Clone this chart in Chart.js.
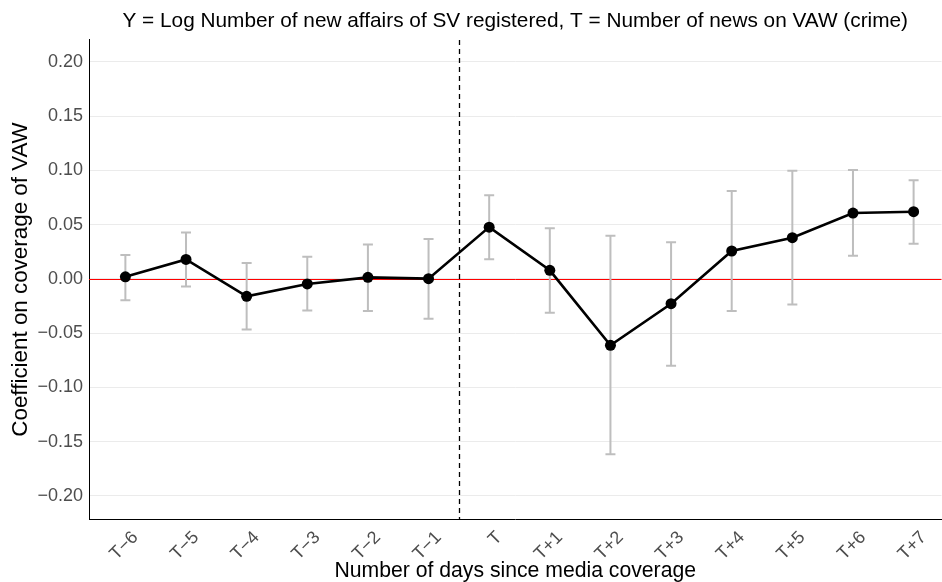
<!DOCTYPE html>
<html>
<head>
<meta charset="utf-8">
<script src="https://cdn.jsdelivr.net/npm/chart.js@4"></script>
<style>
  html, body { margin: 0; padding: 0; background: #fff; overflow: hidden; }
  #wrap { width: 947px; height: 582px; }
</style>
</head>
<body>
<div id="wrap"><canvas id="eventChart" width="947" height="582"></canvas></div>
<script>
const dayLabels = ["T\u22126", "T\u22125", "T\u22124", "T\u22123", "T\u22122", "T\u22121", "T",
                   "T+1", "T+2", "T+3", "T+4", "T+5", "T+6", "T+7"]
const coef   = [0.002, 0.018, -0.016, -0.0046, 0.0015, 0.0003, 0.0478, 0.008, -0.0611, -0.0228, 0.0258, 0.0381, 0.0608, 0.062]
const ciLow  = [-0.0196, -0.0069, -0.0465, -0.029, -0.0296, -0.0366, 0.0182, -0.0311, -0.1616, -0.0799, -0.0295, -0.0236, 0.0215, 0.0325]
const ciHigh = [0.022, 0.0428, 0.0147, 0.0206, 0.0318, 0.0368, 0.0772, 0.0467, 0.0399, 0.0338, 0.0811, 0.0998, 0.1005, 0.091]
const yTicks = [-0.2, -0.15, -0.1, -0.05, 0, 0.05, 0.1, 0.15, 0.2]
const eventAt = 5.5   // between T-1 and T

const fontFamily = "'Liberation Sans', Arial, sans-serif"

// zero line, treatment line and confidence bars
const errorBars = {
  id: "errorBars",
  beforeDatasetsDraw(chart) {
    const { ctx, chartArea, scales: { x, y } } = chart
    ctx.save()

    const y0 = Math.round(y.getPixelForValue(0)) + 0.5
    ctx.strokeStyle = "#ff0000"
    ctx.lineWidth = 1
    ctx.beginPath()
    ctx.moveTo(chartArea.left, y0)
    ctx.lineTo(chartArea.right, y0)
    ctx.stroke()

    ctx.strokeStyle = "#bebebe"
    ctx.lineWidth = 2
    coef.forEach((_, i) => {
      const px = x.getPixelForValue(i)
      const lo = y.getPixelForValue(ciLow[i])
      const hi = y.getPixelForValue(ciHigh[i])
      ctx.beginPath()
      ctx.moveTo(px, lo); ctx.lineTo(px, hi)
      ctx.moveTo(px - 5, lo); ctx.lineTo(px + 5, lo)
      ctx.moveTo(px - 5, hi); ctx.lineTo(px + 5, hi)
      ctx.stroke()
    })

    const ex = Math.round(x.getPixelForValue(eventAt)) + 0.5
    ctx.strokeStyle = "#000"
    ctx.lineWidth = 1.3
    ctx.setLineDash([5, 4])
    ctx.beginPath()
    ctx.moveTo(ex, chartArea.top)
    ctx.lineTo(ex, chartArea.bottom)
    ctx.stroke()
    ctx.restore()
  }
}

const chartData = {
  datasets: [
    {
      label: "Coefficient",
      data: coef.map((v, i) => ({ x: i, y: v })),
      borderColor: "#000",
      backgroundColor: "#000",
      borderWidth: 2.6,
      pointRadius: 5.5,
      pointBorderWidth: 0,
      tension: 0,
    },
  ],
}

const chartConfig = {
  type: "line",
  data: chartData,
  plugins: [errorBars],
  options: {
    responsive: false,
    animation: false,
    layout: { padding: 0 },
    scales: {
      x: {
        type: "linear",
        min: -0.6,
        max: 13.46,
        afterBuildTicks: (scale) => { scale.ticks = dayLabels.map((_, i) => ({ value: i })) },
        afterFit: (scale) => {
          scale.height = 63
          scale.paddingRight = 0
          scale.paddingLeft = 0
        },
        grid: { display: false, drawTicks: false, tickLength: 0 },
        border: { display: true, color: "#000", width: 1 },
        ticks: {
          autoSkip: false,
          minRotation: 45,
          maxRotation: 45,
          padding: 8,
          labelOffset: 10,
          color: "#4d4d4d",
          font: { family: fontFamily, size: 18 },
          callback: (v) => dayLabels[v],
        },
        title: {
          display: true,
          text: "Number of days since media coverage",
          color: "#000",
          font: { family: fontFamily, size: 21.2, lineHeight: 1 },
          padding: { top: 0, bottom: 0 },
        },
      },
      y: {
        min: -0.2212,
        max: 0.2203,
        afterBuildTicks: (scale) => { scale.ticks = yTicks.map((v) => ({ value: v })) },
        afterFit: (scale) => { scale.width = 89 },
        grid: { color: "#ebebeb", lineWidth: 1, drawTicks: false, tickLength: 0 },
        border: { display: true, color: "#000", width: 1 },
        ticks: {
          padding: 6,
          color: "#4d4d4d",
          font: { family: fontFamily, size: 18 },
          callback: (v) => (v < 0 ? "\u2212" : "") + Math.abs(v).toFixed(2),
        },
        title: {
          display: true,
          text: "Coefficient on coverage of VAW",
          color: "#000",
          font: { family: fontFamily, size: 22.4, lineHeight: 1 },
          padding: { top: 10, bottom: 0 },
        },
      },
    },
    plugins: {
      legend: { display: false },
      tooltip: { enabled: false },
      title: {
        display: true,
        fullSize: false,
        text: "Y = Log Number of new affairs of SV registered, T = Number of news on VAW (crime)",
        color: "#000",
        font: { family: fontFamily, size: 20.8, weight: "normal", lineHeight: 1.2 },
        padding: { top: 9, bottom: 6 },
      },
    },
  },
}

new Chart(document.getElementById("eventChart"), chartConfig)
</script>
</body>
</html>
